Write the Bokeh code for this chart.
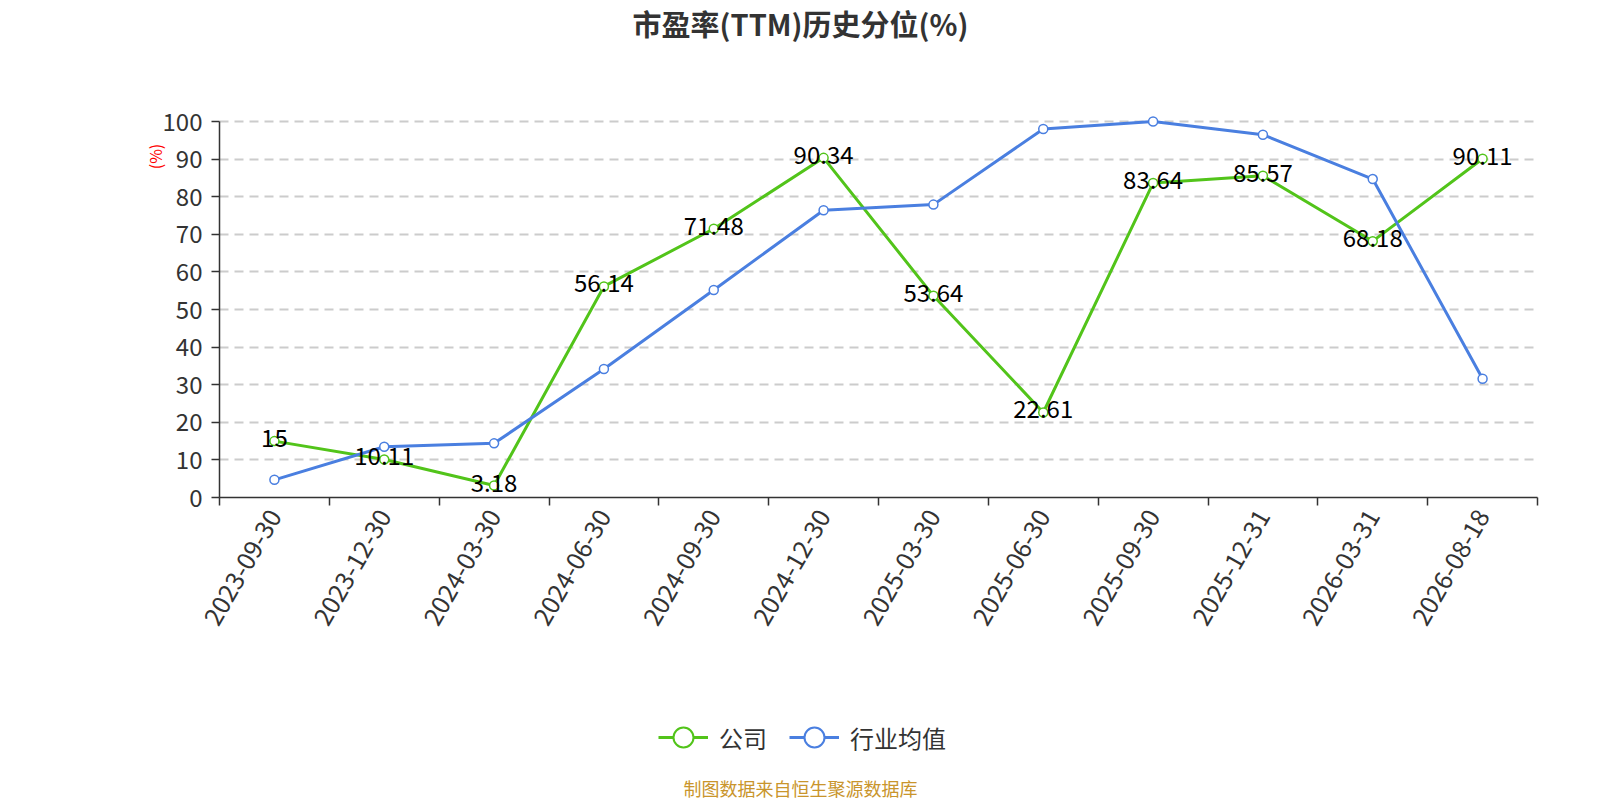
import math
from bokeh.plotting import figure
from bokeh.models import ColumnDataSource, FixedTicker, Range1d, Label, LinearAxis, Legend, LegendItem
from bokeh.layouts import column
from bokeh.core.properties import value
from bokeh.embed import file_html
from bokeh.resources import INLINE

dates = ["2023-09-30", "2023-12-30", "2024-03-30", "2024-06-30", "2024-09-30", "2024-12-30",
         "2025-03-30", "2025-06-30", "2025-09-30", "2025-12-31", "2026-03-31", "2026-08-18"]
company = [15, 10.11, 3.18, 56.14, 71.48, 90.34, 53.64, 22.61, 83.64, 85.57, 68.18, 90.11]
industry = [4.7, 13.5, 14.4, 34.2, 55.2, 76.4, 77.9, 98.0, 100.0, 96.5, 84.7, 31.6]
y_ticks = [0, 10, 20, 30, 40, 50, 60, 70, 80, 90, 100]

title_text = "市盈率(TTM)历史分位(%)"
footer_text = "制图数据来自恒生聚源数据库"
unit_text = "(%)"
series_names = ["公司", "行业均值"]

GREEN = "#52c41a"
BLUE = "#4a7fe0"
FONT = "Noto Sans CJK SC"
W = 1600
FL, FR = 219, 1537   # frame left / right in page pixels (frames are aligned in the column)


def blank(h):
    f = figure(width=W, height=h, output_backend="svg", toolbar_location=None,
               x_range=Range1d(FL, FR), y_range=Range1d(0, h),
               min_border_left=FL, min_border_right=W - FR, min_border_top=0, min_border_bottom=0)
    f.axis.visible = False
    f.grid.visible = False
    f.outline_line_color = None
    return f


n = len(dates)
xs = [i + 0.5 for i in range(n)]
src = ColumnDataSource(dict(x=xs, date=dates, company=company, industry=industry,
                            lab=[f"{v:g}" for v in company]))

# ---------- title strip ----------
TH = 45
top = blank(TH)
top.add_layout(Label(x=W / 2, y=TH - 22, text=title_text, text_align="center",
                     text_baseline="middle", text_font=FONT, text_font_size="29px",
                     text_font_style="bold", text_color="#333333"))

# ---------- main chart ----------
p = figure(width=W, height=635, output_backend="svg", toolbar_location=None,
           x_range=Range1d(0, n), y_range=Range1d(0, 103.2),
           min_border_left=FL, min_border_right=W - FR, min_border_top=64, min_border_bottom=183)
p.outline_line_color = None

p.xaxis.ticker = FixedTicker(ticks=xs, minor_ticks=list(range(n + 1)))
p.xaxis.major_label_overrides = {x: d for x, d in zip(xs, dates)}
p.xaxis.major_tick_line_color = None
p.xaxis.minor_tick_in = 0
p.xaxis.minor_tick_out = 8
p.xaxis.minor_tick_line_color = "#333333"
p.xaxis.minor_tick_line_width = 1.5
p.xaxis.axis_line_color = "#333333"
p.xaxis.axis_line_width = 1.5
p.xaxis.major_label_orientation = math.pi / 3
p.xaxis.major_label_text_font = FONT
p.xaxis.major_label_text_font_size = "25px"
p.xaxis.major_label_text_color = "#333333"
p.xaxis.major_label_standoff = 6

p.yaxis.ticker = FixedTicker(ticks=y_ticks)
p.yaxis.bounds = (0, 100)
p.yaxis.minor_tick_line_color = None
p.yaxis.major_tick_in = 0
p.yaxis.major_tick_out = 8
p.yaxis.major_tick_line_color = "#333333"
p.yaxis.major_tick_line_width = 1.5
p.yaxis.axis_line_color = "#333333"
p.yaxis.axis_line_width = 1.5
p.yaxis.major_label_text_font = FONT
p.yaxis.major_label_text_font_size = "24px"
p.yaxis.major_label_text_color = "#333333"
p.yaxis.major_label_standoff = 9

# unit label "(%)" as the tick label of a second, bare left axis
unit_axis = LinearAxis(ticker=FixedTicker(ticks=[90.7]), major_label_overrides={90.7: unit_text},
                       axis_line_color=None, major_tick_line_color=None, minor_tick_line_color=None,
                       major_tick_in=0, major_tick_out=0, major_label_standoff=-8,
                       major_label_orientation="vertical",
                       major_label_text_font=FONT, major_label_text_font_size="16px",
                       major_label_text_color="red")
p.add_layout(unit_axis, "left")

p.xgrid.visible = False
p.ygrid.grid_line_color = "#cccccc"
p.ygrid.grid_line_dash = "9 6"
p.ygrid.grid_line_width = 1.8

p.line("x", "company", source=src, color=GREEN, line_width=3)
p.scatter("x", "company", source=src, size=9, line_color=GREEN, fill_color="white", line_width=1.5)
p.line("x", "industry", source=src, color=BLUE, line_width=3)
p.scatter("x", "industry", source=src, size=9, line_color=BLUE, fill_color="white", line_width=1.5)

p.text("x", "company", text="lab", source=src, text_align="center", text_baseline="middle",
       text_font=value(FONT), text_font_size="24px", text_color="black", y_offset=-3)

# ---------- legend + footer strip ----------
BH = 120
bot = blank(BH)
# legend-only renderers: real series drawn against an off-screen range so only the legend shows them
bot.extra_y_ranges = {"offscreen": Range1d(1000, 2000)}
items = []
for name, col, field in zip(series_names, [GREEN, BLUE], ["company", "industry"]):
    r1 = bot.line("x", field, source=src, color=col, line_width=3, y_range_name="offscreen")
    r2 = bot.scatter("x", field, source=src, line_color=col, fill_color="white", line_width=2,
                     y_range_name="offscreen")
    items.append(LegendItem(label=name, renderers=[r1, r2]))
lg = Legend(items=items, orientation="horizontal", location=(658 - FL, BH - 57 - 25),
            glyph_width=50, glyph_height=50, label_standoff=11, spacing=22, padding=0, margin=0,
            border_line_color=None, background_fill_alpha=0,
            label_text_font=FONT, label_text_font_size="24px", label_text_color="#333333")
bot.add_layout(lg)
bot.add_layout(Label(x=W / 2, y=BH - 107, text=footer_text, text_align="center",
                     text_baseline="middle", text_font=FONT, text_font_size="18px",
                     text_color="#c9952c"))

layout = column(top, p, bot, spacing=0)
open("out.html", "w").write(file_html(layout, INLINE))
